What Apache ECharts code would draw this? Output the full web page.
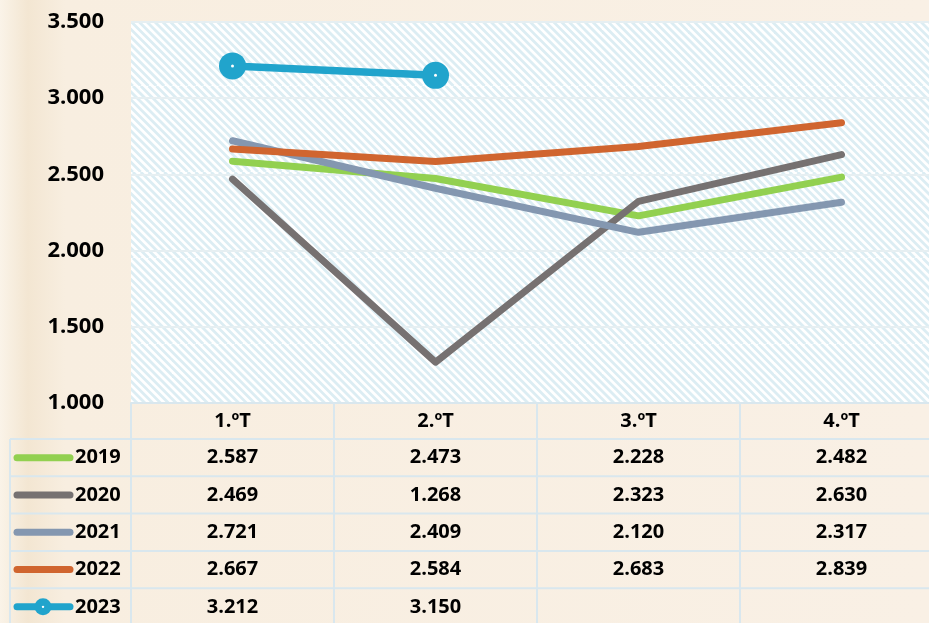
<!DOCTYPE html>
<html>
<head>
<meta charset="utf-8">
<script src="https://cdn.jsdelivr.net/npm/echarts@6/dist/echarts.min.js"></script>
<style>
html, body { margin: 0; padding: 0; overflow: hidden; background: #f8efe2; }
#main { width: 929px; height: 623px; }
</style>
</head>
<body>
<div id="main"></div>
<script>
var quarters = ['1.ºT', '2.ºT', '3.ºT', '4.ºT'];
var years = ['2019', '2020', '2021', '2022', '2023'];
var v2019 = [2.587, 2.473, 2.228, 2.482];
var v2020 = [2.469, 1.268, 2.323, 2.630];
var v2021 = [2.721, 2.409, 2.120, 2.317];
var v2022 = [2.667, 2.584, 2.683, 2.839];
var v2023 = [3.212, 3.150, null, null];
var yMin = 1, yMax = 3.5, yStep = 0.5;
var colors = ['#92d050', '#767171', '#8497b0', '#d0652f', '#21a4cc'];

var allValues = [v2019, v2020, v2021, v2022, v2023];
var txtFont = 'bold 20px "Open Sans", "DejaVu Sans", sans-serif';
var borderCol = '#d9e7ee';

// hatch fill for the plot area
function hatch() {
	var s = 86, c = document.createElement('canvas');
	c.width = s; c.height = s;
	var g = c.getContext('2d');
	g.fillStyle = '#ffffff';
	g.fillRect(0, 0, s, s);
	g.strokeStyle = '#dcedf3';
	g.lineWidth = 2.8;
	var p = s / 11;
	for (var k = -12; k <= 12; k++) {
		g.beginPath();
		g.moveTo(k * p, 0);
		g.lineTo(k * p + s, s);
		g.stroke();
	}
	return c;
}

var chart = echarts.init(document.getElementById('main'));

var series = [];
for (var i = 0; i < years.length; i++) {
	var last = (i === years.length - 1);
	series.push({
		name: years[i],
		type: 'line',
		data: allValues[i],
		color: colors[i],
		symbol: last ? 'circle' : 'none',
		symbolSize: 27,
		showSymbol: last,
		lineStyle: { width: last ? 7.5 : 7, cap: 'round', join: 'round', color: colors[i] },
		itemStyle: { color: colors[i] },
		silent: true,
		z: 2 + i
	});
}
// small white dot in centre of the 2023 markers
series.push({
	name: years[4] + '_dot',
	type: 'line',
	data: v2023,
	symbol: 'circle',
	symbolSize: 3,
	showSymbol: true,
	lineStyle: { opacity: 0 },
	itemStyle: { color: '#ffffff' },
	silent: true,
	z: 10
});

option = {
	backgroundColor: {
		type: 'linear', x: 0, y: 0, x2: 1, y2: 0,
		colorStops: [
			{ offset: 0, color: '#faf3e8' },
			{ offset: 0.03, color: '#f3e6d2' },
			{ offset: 0.07, color: '#f8eee0' },
			{ offset: 1, color: '#f9f0e5' }
		]
	},
	animation: false,
	grid: {
		left: 131, right: -14, top: 22, bottom: 220,
		show: true,
		backgroundColor: { image: hatch(), repeat: 'repeat' },
		borderWidth: 0,
		containLabel: false,
		outerBoundsMode: 'none'
	},
	xAxis: {
		type: 'category',
		data: quarters,
		boundaryGap: true,
		axisLine: { show: true, lineStyle: { color: borderCol, width: 2 } },
		axisTick: { show: true, length: 220, lineStyle: { color: borderCol, width: 2 } },
		axisLabel: {
			margin: 8,
			color: '#000',
			fontSize: 20,
			fontWeight: 'bold',
			fontFamily: '"Open Sans", "DejaVu Sans", sans-serif'
		},
		splitLine: { show: false }
	},
	yAxis: {
		type: 'value',
		min: yMin, max: yMax, interval: yStep,
		axisLine: { show: false },
		axisTick: { show: false },
		axisLabel: {
			margin: 27,
			color: '#000',
			fontSize: 22,
			fontWeight: 'bold',
			fontFamily: '"Open Sans", "DejaVu Sans", sans-serif',
			formatter: function (v) { return v.toFixed(3); }
		},
		splitLine: { lineStyle: { color: '#e6eff2', width: 2 } }
	},
	series: series
};

chart.setOption(option);

// data table under the plot
var rowTop = 439, rowH = 37.3;
var els = [];
els.push({ type: 'line', shape: { x1: 10, y1: rowTop, x2: 10, y2: 623 }, style: { stroke: borderCol, lineWidth: 2 }, silent: true });
for (var r = 0; r < years.length; r++) {
	var y0 = rowTop + r * rowH;
	els.push({ type: 'line', shape: { x1: 10, y1: y0, x2: 929, y2: y0 }, style: { stroke: borderCol, lineWidth: 2 }, silent: true });
	var cy = y0 + rowH / 2;
	// legend key
	els.push({ type: 'line', shape: { x1: 17, y1: cy, x2: 70, y2: cy }, style: { stroke: colors[r], lineWidth: 7, lineCap: 'round' }, silent: true });
	if (r === years.length - 1) {
		els.push({ type: 'circle', shape: { cx: 43, cy: cy, r: 8.5 }, style: { fill: colors[r] }, silent: true });
		els.push({ type: 'circle', shape: { cx: 43, cy: cy, r: 1.2 }, style: { fill: '#fff' }, silent: true });
	}
	els.push({ type: 'text', x: 75, y: cy, style: { text: years[r], font: txtFont, fill: '#000', align: 'left', verticalAlign: 'middle' }, silent: true });
	for (var q = 0; q < quarters.length; q++) {
		var val = allValues[r][q];
		if (val == null) continue;
		var cx = chart.convertToPixel({ xAxisIndex: 0 }, q);
		els.push({ type: 'text', x: cx, y: cy, style: { text: val.toFixed(3), font: txtFont, fill: '#000', align: 'center', verticalAlign: 'middle' }, silent: true });
	}
}
chart.setOption({ graphic: { elements: els } });
</script>
</body>
</html>
